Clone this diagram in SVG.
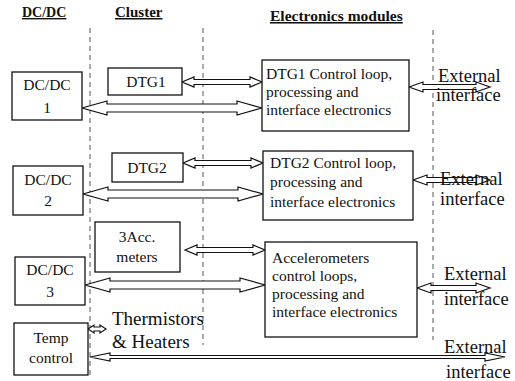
<svg xmlns="http://www.w3.org/2000/svg" width="515" height="381" viewBox="0 0 515 381">
<style>
text{font-family:"Liberation Serif","Times New Roman",serif;fill:#111}
.box{fill:#fff;stroke:#111;stroke-width:1.3}
.arr{fill:#fff;stroke:#111;stroke-width:1.2;stroke-linejoin:miter}
.dash{stroke:#555;stroke-width:1;stroke-dasharray:5,4;fill:none}
.hdr{font-weight:bold;text-decoration:underline}
.b{font-size:15.5px}
.t{font-size:15.5px}
.ext{font-size:18.5px}
.big{font-size:19px}
</style>
<rect width="515" height="381" fill="#fff"/>
<g id="headers">
<text class="hdr" x="22" y="17" font-size="14">DC/DC</text>
<text class="hdr" x="115" y="17" font-size="15">Cluster</text>
<text class="hdr" x="270" y="21" font-size="15.5">Electronics modules</text>
</g>
<g id="dividers">
<line class="dash" x1="90" y1="28" x2="90" y2="378"/>
<line class="dash" x1="203" y1="28" x2="203" y2="345"/>
<line class="dash" x1="433" y1="30" x2="433" y2="340"/>
</g>
<g id="connectors">
<polygon class="arr" points="182,82 194,77 194,79.5 250,79.5 250,77 262,82 250,87 250,84.5 194,84.5 194,87"/>
<polygon class="arr" points="82,108 107,101 107,104 237,104 237,101 262,108 237,115 237,112 107,112 107,115"/>
<polygon class="arr" points="409,87 423,82 423,84.5 476,84.5 476,82 490,87 476,92 476,89.5 423,89.5 423,92"/>
<polygon class="arr" points="183,163 195,158 195,160.5 251,160.5 251,158 263,163 251,168 251,165.5 195,165.5 195,168"/>
<polygon class="arr" points="83,194 108,187 108,190 238,190 238,187 263,194 238,201 238,198 108,198 108,201"/>
<polygon class="arr" points="413,180 427,175 427,177.5 476,177.5 476,175 490,180 476,185 476,182.5 427,182.5 427,185"/>
<polygon class="arr" points="185,250 197,245 197,247.5 253,247.5 253,245 265,250 253,255 253,252.5 197,252.5 197,255"/>
<polygon class="arr" points="85,285 110,278 110,281 240,281 240,278 265,285 240,292 240,289 110,289 110,292"/>
<polygon class="arr" points="417,288 431,283 431,285.5 476,285.5 476,283 490,288 476,293 476,290.5 431,290.5 431,293"/>
<polygon class="arr" points="88,329 94,325 94,327 100,327 100,325 106,329 100,333 100,331 94,331 94,333"/>
<polygon class="arr" points="90,357 110,353 110,355.5 485,355.5 485,353 505,357 485,361 485,358.5 110,358.5 110,361"/>
</g>
<g id="dcdc1">
<rect class="box" x="12" y="72" width="70" height="48"/>
<text class="b" x="47" y="90" text-anchor="middle">DC/DC</text>
<text class="b" x="47" y="113" text-anchor="middle">1</text>
</g>
<g id="dtg1">
<rect class="box" x="108" y="68" width="74" height="27"/>
<text class="b" x="146" y="87" text-anchor="middle">DTG1</text>
</g>
<g id="elec1">
<rect class="box" x="262" y="60" width="147" height="71"/>
<text class="t" x="266" y="79">DTG1 Control loop,</text>
<text class="t" x="266" y="97">processing and</text>
<text class="t" x="266" y="115">interface electronics</text>
</g>
<g id="ext1">
<text class="ext" x="438" y="82">External</text>
<text class="ext" x="436" y="101">interface</text>
</g>
<g id="dcdc2">
<rect class="box" x="13" y="166" width="70" height="49"/>
<text class="b" x="48" y="185" text-anchor="middle">DC/DC</text>
<text class="b" x="48" y="206" text-anchor="middle">2</text>
</g>
<g id="dtg2">
<rect class="box" x="112" y="153" width="71" height="29"/>
<text class="b" x="147" y="173" text-anchor="middle">DTG2</text>
</g>
<g id="elec2">
<rect class="box" x="263" y="151" width="150" height="69"/>
<text class="t" x="270" y="168">DTG2 Control loop,</text>
<text class="t" x="270" y="187">processing and</text>
<text class="t" x="270" y="207">interface electronics</text>
</g>
<g id="ext2">
<text class="ext" x="440" y="185">External</text>
<text class="ext" x="440" y="205">interface</text>
</g>
<g id="acc">
<rect class="box" x="95" y="222" width="85" height="50"/>
<text class="b" x="137" y="242" text-anchor="middle">3Acc.</text>
<text class="b" x="137" y="262" text-anchor="middle">meters</text>
</g>
<g id="dcdc3">
<rect class="box" x="15" y="257" width="70" height="48"/>
<text class="b" x="50" y="275" text-anchor="middle">DC/DC</text>
<text class="b" x="50" y="297" text-anchor="middle">3</text>
</g>
<g id="elec3">
<rect class="box" x="265" y="242" width="152" height="95"/>
<text class="t" x="272" y="263">Accelerometers</text>
<text class="t" x="272" y="281">control loops,</text>
<text class="t" x="272" y="299">processing and</text>
<text class="t" x="272" y="317">interface electronics</text>
</g>
<g id="ext3">
<text class="ext" x="444" y="280">External</text>
<text class="ext" x="444" y="305">interface</text>
</g>
<g id="temp">
<rect class="box" x="14" y="323" width="74" height="52"/>
<text class="b" x="51" y="343" text-anchor="middle">Temp</text>
<text class="b" x="51" y="363" text-anchor="middle">control</text>
</g>
<g id="thermistors">
<text class="big" x="112" y="325">Thermistors</text>
<text class="big" x="112" y="348">&amp; Heaters</text>
</g>
<g id="ext4">
<text class="ext" x="444" y="353">External</text>
<text class="ext" x="446" y="378">interface</text>
</g>
</svg>
